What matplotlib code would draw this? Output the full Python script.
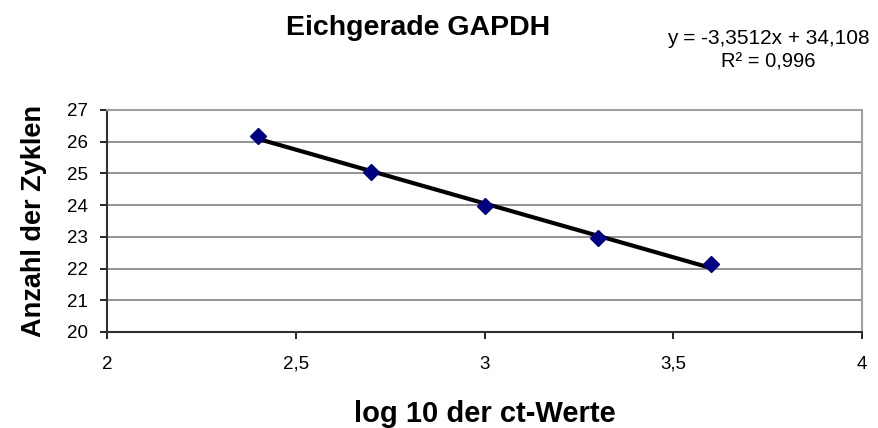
import numpy as np
import matplotlib.pyplot as plt
from matplotlib.ticker import FuncFormatter

plt.rcParams['font.family'] = ['Liberation Sans', 'DejaVu Sans']

# data
log_ct = [2.4, 2.7, 3.0, 3.3, 3.6]
zyklen = [26.18, 25.04, 23.96, 22.96, 22.13]
x_ticks = [2, 2.5, 3, 3.5, 4]
y_ticks = [20, 21, 22, 23, 24, 25, 26, 27]

fig = plt.figure(figsize=(8.79, 4.28), dpi=100)
ax = fig.add_axes([0.1217, 0.2243, 0.8590, 0.5187])

# linear trend line
slope, icpt = np.polyfit(log_ct, zyklen, 1)
xs = np.array([min(log_ct), max(log_ct)])
ax.plot(xs, slope * xs + icpt, color='black', lw=3, zorder=3, solid_capstyle='butt')
ax.plot(log_ct, zyklen, linestyle='none', marker='D', markersize=8,
        color='#000080', zorder=4)

ax.set_xlim(2, 4)
ax.set_ylim(20, 27)
ax.set_xticks(x_ticks)
ax.set_yticks(y_ticks)
ax.xaxis.set_major_formatter(FuncFormatter(lambda v, p: f'{v:g}'.replace('.', ',')))
ax.grid(axis='y', color='#808080', lw=1.2)
ax.set_axisbelow(True)
ax.tick_params(labelsize=13.5, length=5, width=1.2, direction='out')
ax.tick_params(axis='x', pad=12)
ax.tick_params(axis='y', pad=9)

for s in ['top', 'right']:
    ax.spines[s].set_color('#a0a0a0')
    ax.spines[s].set_linewidth(1.5)
for s in ['left', 'bottom']:
    ax.spines[s].set_color('#303030')
    ax.spines[s].set_linewidth(1.5)

ax.set_xlabel('log 10 der ct-Werte', fontsize=21, fontweight='bold', labelpad=20)
ax.set_ylabel('Anzahl der Zyklen', fontsize=19.5, fontweight='bold', labelpad=14)

fig.text(0.4755, 0.935, 'Eichgerade GAPDH', fontsize=20.5, fontweight='bold',
         ha='center', va='center')
fig.text(0.8743, 0.91, 'y = -3,3512x + 34,108', fontsize=15, ha='center', va='center')
fig.text(0.8743, 0.855, 'R² = 0,996', fontsize=14.5, ha='center', va='center')

fig.savefig('out.png', dpi=100)
